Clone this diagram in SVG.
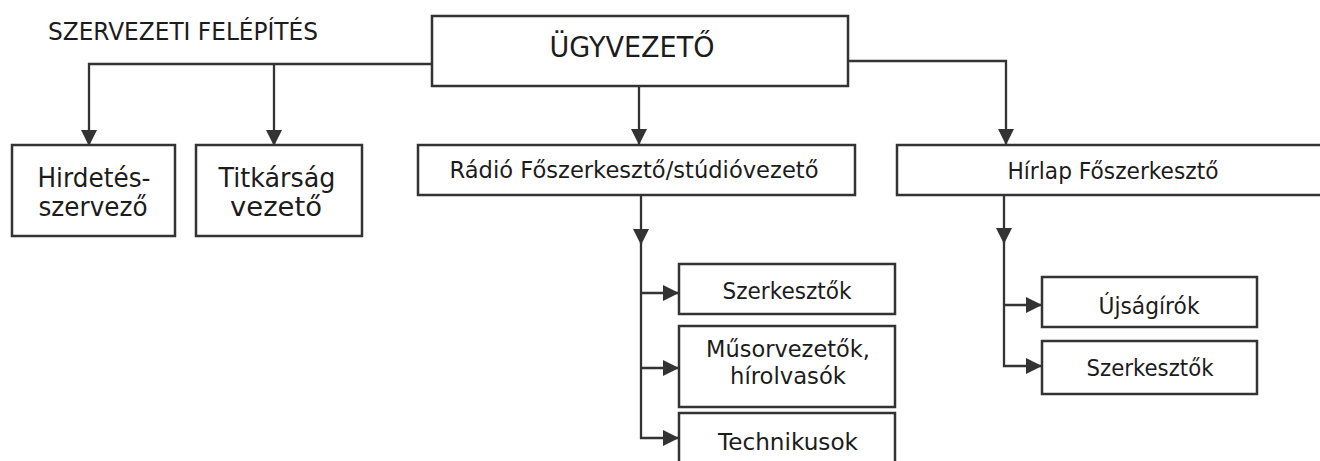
<svg xmlns="http://www.w3.org/2000/svg" width="1320" height="461" viewBox="0 0 1320 461">
<style>
.box{fill:#fff;stroke:#333;stroke-width:2.5}
.ln{fill:none;stroke:#333;stroke-width:2.3}
.t{font-family:"DejaVu Sans","Liberation Sans",sans-serif;fill:#1c1c1c;text-anchor:middle;font-size:23.5px}
.big{font-size:26px}
</style>
<defs>
<marker id="ah" markerUnits="userSpaceOnUse" viewBox="0 0 16 16" refX="15" refY="8" markerWidth="16" markerHeight="16" orient="auto">
<path d="M0,0 L16,8 L0,16 z" fill="#333"/>
</marker>
</defs>
<rect width="1320" height="461" fill="#fff"/>
<text id="title" x="48" y="40" class="t" style="text-anchor:start;font-size:25px" textLength="270" lengthAdjust="spacingAndGlyphs">SZERVEZETI FELÉPÍTÉS</text>
<g id="connectors">
<path class="ln" d="M432,64 H89 V145" marker-end="url(#ah)"/>
<path class="ln" d="M274,64 V145" marker-end="url(#ah)"/>
<path class="ln" d="M639,86 V144" marker-end="url(#ah)"/>
<path class="ln" d="M848,61 H1006 V144" marker-end="url(#ah)"/>
<path class="ln" d="M641,195 V244" marker-end="url(#ah)"/>
<path class="ln" d="M641,243 V438 H678" marker-end="url(#ah)"/>
<path class="ln" d="M641,293 H678" marker-end="url(#ah)"/>
<path class="ln" d="M641,368 H678" marker-end="url(#ah)"/>
<path class="ln" d="M1004,196 V243" marker-end="url(#ah)"/>
<path class="ln" d="M1004,242 V366 H1041" marker-end="url(#ah)"/>
<path class="ln" d="M1004,305 H1041" marker-end="url(#ah)"/>
</g>
<g id="ugyvezeto">
<rect class="box" x="432" y="16" width="416" height="70"/>
<text class="t" x="632" y="57" style="font-size:29px" textLength="165" lengthAdjust="spacingAndGlyphs">ÜGYVEZETŐ</text>
</g>
<g id="hirdetes">
<rect class="box" x="12" y="145" width="163" height="91"/>
<text class="t big" x="94" y="187" textLength="113" lengthAdjust="spacingAndGlyphs">Hirdetés-</text>
<text class="t big" x="93" y="216" textLength="109" lengthAdjust="spacingAndGlyphs">szervező</text>
</g>
<g id="titkarsag">
<rect class="box" x="196" y="145" width="166" height="91"/>
<text class="t big" x="277" y="187" textLength="117" lengthAdjust="spacingAndGlyphs">Titkárság</text>
<text class="t big" x="276" y="216" textLength="92" lengthAdjust="spacingAndGlyphs">vezető</text>
</g>
<g id="radio">
<rect class="box" x="418" y="145" width="437" height="50"/>
<text class="t" x="634" y="178" textLength="369" lengthAdjust="spacingAndGlyphs">Rádió Főszerkesztő/stúdióvezető</text>
</g>
<g id="hirlap">
<rect class="box" x="897" y="145" width="432" height="50"/>
<text class="t" x="1113" y="179" textLength="211" lengthAdjust="spacingAndGlyphs">Hírlap Főszerkesztő</text>
</g>
<g id="r-szerkesztok">
<rect class="box" x="679" y="264" width="216" height="50"/>
<text class="t" x="787" y="299" textLength="129" lengthAdjust="spacingAndGlyphs">Szerkesztők</text>
</g>
<g id="musorvezetok">
<rect class="box" x="679" y="326" width="216" height="81"/>
<text class="t" x="788" y="357" textLength="164" lengthAdjust="spacingAndGlyphs">Műsorvezetők,</text>
<text class="t" x="788" y="384" textLength="116" lengthAdjust="spacingAndGlyphs">hírolvasók</text>
</g>
<g id="technikusok">
<rect class="box" x="679" y="413" width="216" height="62"/>
<text class="t" x="788" y="450" textLength="140" lengthAdjust="spacingAndGlyphs">Technikusok</text>
</g>
<g id="ujsagirok">
<rect class="box" x="1042" y="277" width="215" height="50"/>
<text class="t" x="1149" y="314" textLength="101" lengthAdjust="spacingAndGlyphs">Újságírók</text>
</g>
<g id="h-szerkesztok">
<rect class="box" x="1042" y="341" width="215" height="53"/>
<text class="t" x="1150" y="376" textLength="127" lengthAdjust="spacingAndGlyphs">Szerkesztők</text>
</g>
</svg>
